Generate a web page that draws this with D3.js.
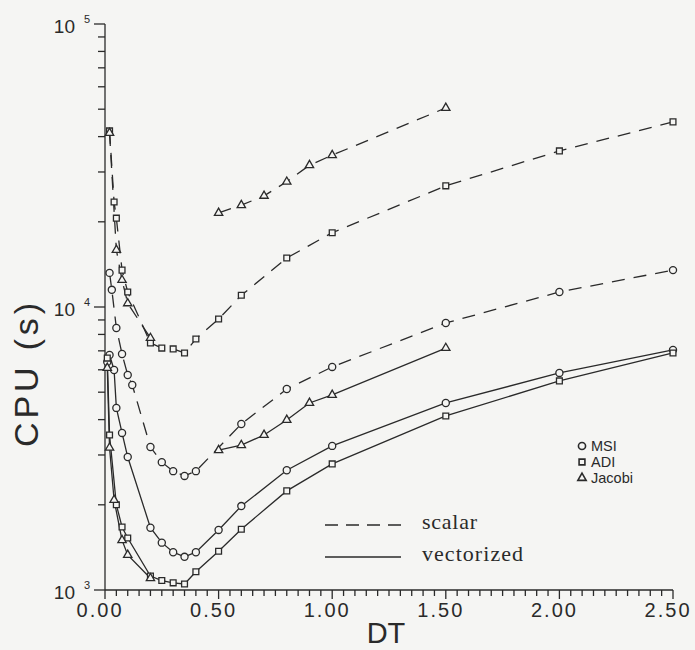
<!DOCTYPE html>
<html>
<head>
<meta charset="utf-8">
<script src="https://cdn.jsdelivr.net/npm/d3@7"></script>
<style>
  body { margin: 0; background: #f5f5f3; }
  svg { display: block; }
</style>
</head>
<body>
<svg id="chart" width="695" height="650"></svg>
<script>
// values: time step DT and CPU time in seconds (null = gap in the curve)
const dtMSIscalar  = [0.02, 0.03, 0.05, 0.075, 0.1, 0.12, 0.2, 0.25, 0.3, 0.35, 0.4, 0.6, 0.8, 1.0, 1.5, 2.0, 2.5];
const cpuMSIscalar = [13200, 11500, 8430, 6820, 5750, 5300, 3200, 2830, 2630, 2530, 2630, 3860, 5130, 6140, 8780, 11300, 13500];

const dtADIscalar  = [0.02, 0.04, 0.05, 0.075, 0.1, 0.2, 0.25, 0.3, 0.35, 0.4, 0.5, 0.6, 0.8, 1.0, 1.5, 2.0, 2.5];
const cpuADIscalar = [41900, 23500, 20600, 13500, 11300, 7460, 7160, 7110, 6880, 7710, 9070, 11000, 14900, 18300, 26800, 35600, 45100];

const dtJacobiScalar  = [0.02, 0.05, 0.075, 0.1, 0.2, 0.35, 0.5, 0.6, 0.7, 0.8, 0.9, 1.0, 1.5];
const cpuJacobiScalar = [41200, 15900, 12450, 10300, 7770, null, 21500, 22900, 24700, 27700, 31700, 34400, 50500];

const dtMSIvector  = [0.01, 0.02, 0.04, 0.05, 0.075, 0.1, 0.2, 0.25, 0.3, 0.35, 0.4, 0.5, 0.6, 0.8, 1.0, 1.5, 2.0, 2.5];
const cpuMSIvector = [6390, 6770, 5990, 4400, 3590, 2950, 1660, 1470, 1360, 1310, 1360, 1630, 1980, 2650, 3230, 4580, 5850, 7050];

const dtADIvector  = [0.01, 0.02, 0.05, 0.075, 0.1, 0.2, 0.25, 0.3, 0.35, 0.4, 0.5, 0.6, 0.8, 1.0, 1.5, 2.0, 2.5];
const cpuADIvector = [6600, 3530, 2000, 1670, 1527, 1120, 1080, 1060, 1050, 1160, 1370, 1640, 2240, 2790, 4120, 5480, 6880];

const dtJacobiVector  = [0.01, 0.02, 0.04, 0.075, 0.1, 0.2, 0.35, 0.5, 0.6, 0.7, 0.8, 0.9, 1.0, 1.5];
const cpuJacobiVector = [6090, 3180, 2080, 1500, 1330, 1100, null, 3120, 3250, 3530, 3990, 4580, 4890, 7160];

const xTickLabels = ["0.00", "0.50", "1.00", "1.50", "2.00", "2.50"];
const yDecades = [3, 4, 5];

const methodNames = ["MSI", "ADI", "Jacobi"];
const modeNames = ["scalar", "vectorized"];

const ink = "#2a2a2a";
const paper = "#f5f5f3";

const svg = d3.select("#chart");

const x = d3.scaleLinear().domain([0, 2.5]).range([105, 673]);
const y = d3.scaleLog().domain([1e3, 1e5]).range([590, 24]);

const symbols = {
  MSI: d3.symbol().type(d3.symbolCircle).size(40),
  ADI: d3.symbol().type(d3.symbolSquare).size(34),
  Jacobi: d3.symbol().type(d3.symbolTriangle).size(30)
};

const series = [
  { method: "MSI", dashed: true, dt: dtMSIscalar, cpu: cpuMSIscalar },
  { method: "ADI", dashed: true, dt: dtADIscalar, cpu: cpuADIscalar },
  { method: "Jacobi", dashed: true, dt: dtJacobiScalar, cpu: cpuJacobiScalar },
  { method: "MSI", dashed: false, dt: dtMSIvector, cpu: cpuMSIvector },
  { method: "ADI", dashed: false, dt: dtADIvector, cpu: cpuADIvector },
  { method: "Jacobi", dashed: false, dt: dtJacobiVector, cpu: cpuJacobiVector }
];

// --- axes ---
const axes = svg.append("g").attr("stroke", ink).attr("stroke-width", 1.3);
axes.append("line")
  .attr("x1", x(0)).attr("x2", x(0))
  .attr("y1", y(1e5)).attr("y2", y(1e3));
axes.append("line")
  .attr("x1", x(0)).attr("x2", x(2.5))
  .attr("y1", y(1e3)).attr("y2", y(1e3));

// y ticks (log, 1..9 per decade)
let yTicks = [];
yDecades.forEach(p => {
  for (let m = 1; m <= 9; m++) {
    if (p === 5 && m > 1) break;
    yTicks.push({ v: m * Math.pow(10, p), major: m === 1 });
  }
});
axes.selectAll("line.ytick")
  .data(yTicks)
  .join("line")
  .attr("class", "ytick")
  .attr("x1", d => x(0) - (d.major ? 11 : 7))
  .attr("x2", x(0))
  .attr("y1", d => y(d.v)).attr("y2", d => y(d.v));

// x ticks every 0.05, major every 0.5
const xTicks = d3.range(0, 51).map(i => ({ v: i * 0.05, major: i % 10 === 0 }));
axes.selectAll("line.xtick")
  .data(xTicks)
  .join("line")
  .attr("class", "xtick")
  .attr("x1", d => x(d.v)).attr("x2", d => x(d.v))
  .attr("y1", y(1e3))
  .attr("y2", d => y(1e3) + (d.major ? 9 : 6));

// tick labels
const labels = svg.append("g")
  .attr("font-family", "'Liberation Sans', Arial, sans-serif")
  .attr("fill", ink);

labels.selectAll("text.xlabel")
  .data(xTickLabels)
  .join("text")
  .attr("class", "xlabel")
  .attr("x", d => x(+d) - 6)
  .attr("y", 617)
  .attr("text-anchor", "middle")
  .attr("font-size", 20)
  .attr("textLength", 45)
  .attr("lengthAdjust", "spacing")
  .text(d => d);

const yLab = labels.selectAll("g.ylabel")
  .data(yDecades)
  .join("g")
  .attr("class", "ylabel");
yLab.append("text")
  .attr("x", 75)
  .attr("y", d => y(Math.pow(10, d)) + 9)
  .attr("text-anchor", "end")
  .attr("font-size", 19)
  .text("10");
yLab.append("text")
  .attr("x", 84)
  .attr("y", d => y(Math.pow(10, d)) - 1)
  .attr("font-size", 11)
  .text(d => d);

// axis titles
labels.append("text")
  .attr("transform", "translate(38,375) rotate(-90)")
  .attr("text-anchor", "middle")
  .attr("font-size", 34)
  .attr("textLength", 144)
  .attr("lengthAdjust", "spacing")
  .text("CPU (s)");
labels.append("text")
  .attr("x", 386)
  .attr("y", 643)
  .attr("text-anchor", "middle")
  .attr("font-size", 29)
  .text("DT");

// --- curves ---
const line = d3.line()
  .defined(d => d.cpu != null)
  .x(d => x(d.dt))
  .y(d => y(d.cpu));

const plot = svg.append("g");
series.forEach(s => {
  s.points = s.dt.map((dt, i) => ({ dt: dt, cpu: s.cpu[i] }));
});

plot.selectAll("path.curve")
  .data(series)
  .join("path")
  .attr("class", "curve")
  .attr("fill", "none")
  .attr("stroke", ink)
  .attr("stroke-width", 1.3)
  .attr("stroke-dasharray", d => d.dashed ? "13,9" : null)
  .attr("d", d => line(d.points));

series.forEach(s => {
  plot.append("g")
    .selectAll("path")
    .data(s.points.filter(p => p.cpu != null))
    .join("path")
    .attr("transform", p => `translate(${x(p.dt)},${y(p.cpu)})`)
    .attr("d", symbols[s.method]())
    .attr("fill", paper)
    .attr("stroke", ink)
    .attr("stroke-width", 1.3);
});

// --- legends ---
const legend = svg.append("g");
const markerLegend = legend.selectAll("g.method")
  .data(methodNames)
  .join("g")
  .attr("class", "method")
  .attr("transform", (d, i) => `translate(582,${446 + i * 16})`);
markerLegend.append("path")
  .attr("d", d => symbols[d]())
  .attr("fill", paper)
  .attr("stroke", ink)
  .attr("stroke-width", 1.6);
markerLegend.append("text")
  .attr("x", 9)
  .attr("y", 5)
  .attr("font-family", "'Liberation Sans', Arial, sans-serif")
  .attr("font-size", 14.5)
  .attr("fill", ink)
  .text(d => d);

const modeLegend = legend.selectAll("g.mode")
  .data(modeNames)
  .join("g")
  .attr("class", "mode")
  .attr("transform", (d, i) => `translate(325,${525 + i * 32})`);
modeLegend.append("line")
  .attr("x1", 0).attr("x2", 76)
  .attr("stroke", ink)
  .attr("stroke-width", 1.4)
  .attr("stroke-dasharray", d => d === "scalar" ? "13,8" : null);
modeLegend.append("text")
  .attr("x", 97)
  .attr("y", 4)
  .attr("font-family", "'Liberation Serif', 'DejaVu Serif', serif")
  .attr("font-size", 22)
  .attr("fill", ink)
  .attr("textLength", d => d === "scalar" ? 55 : 101)
  .attr("lengthAdjust", "spacing")
  .text(d => d);
</script>
</body>
</html>
